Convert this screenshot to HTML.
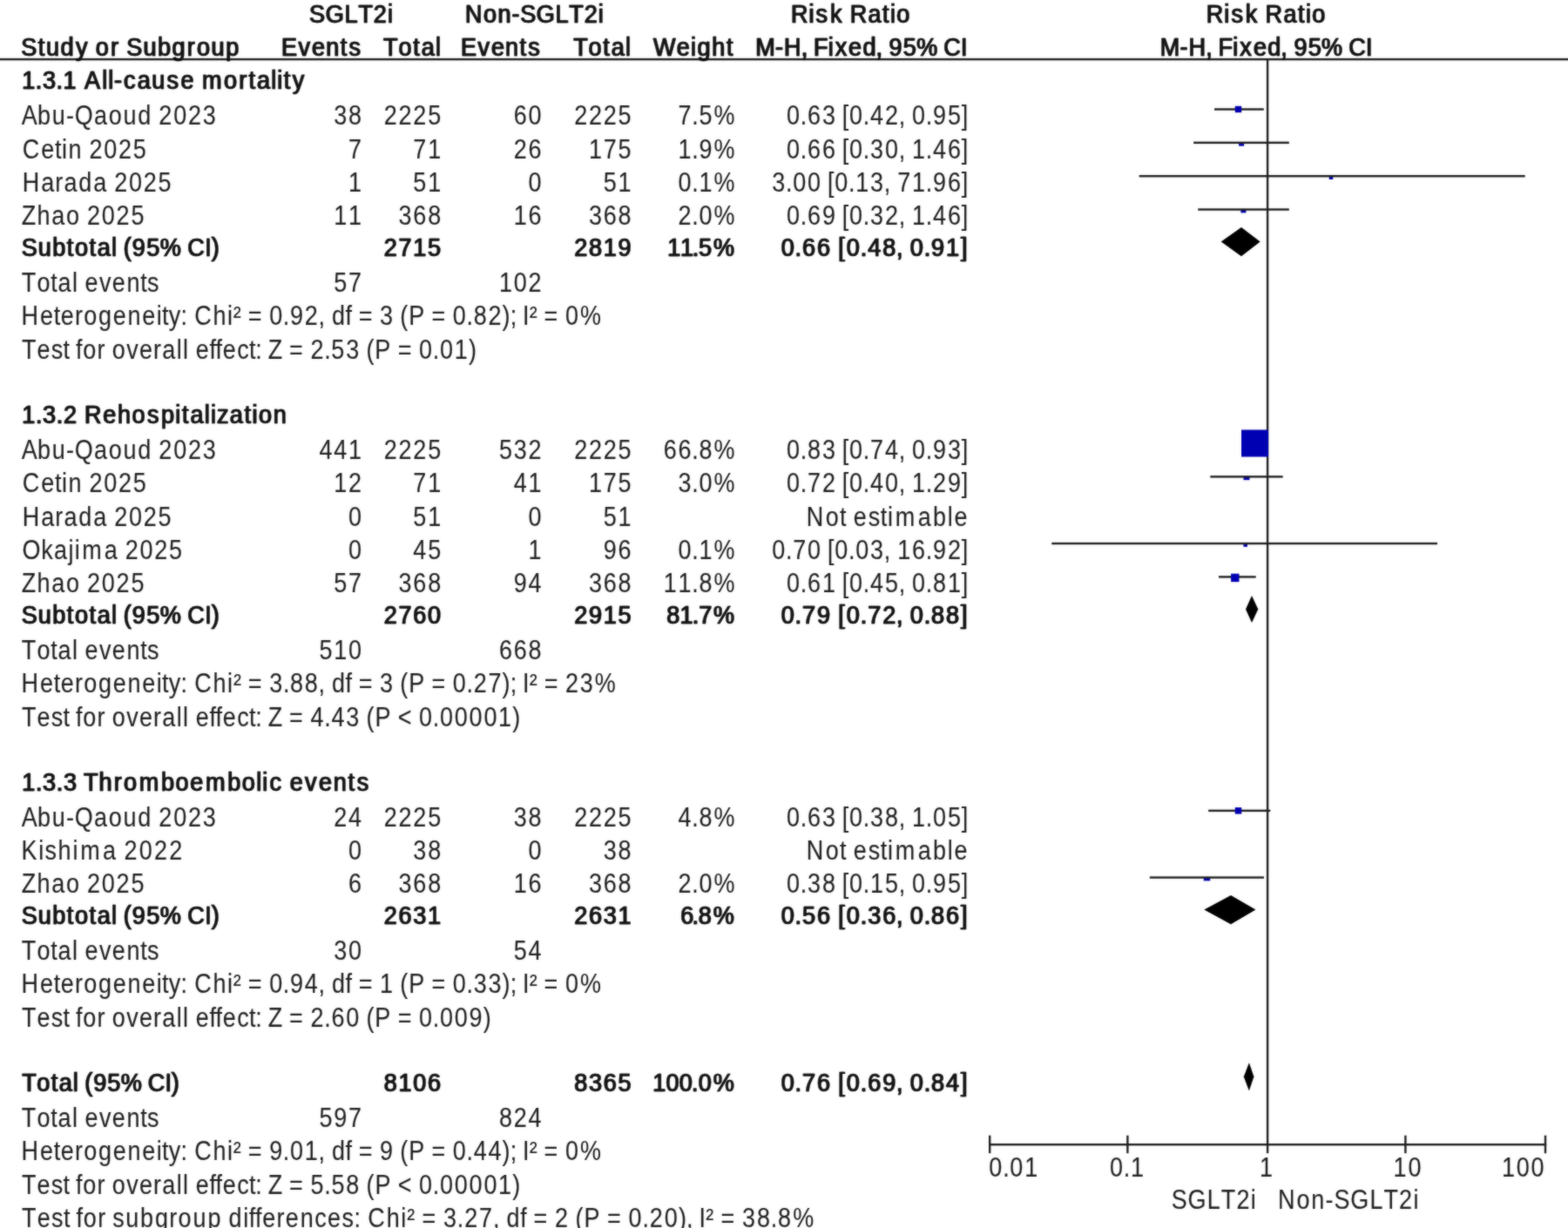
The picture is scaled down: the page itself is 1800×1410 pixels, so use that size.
<!DOCTYPE html>
<html lang="en">
<head>
<meta charset="utf-8">
<title>Forest plot: SGLT2i vs Non-SGLT2i</title>
<style>
html,body{margin:0;padding:0;background:#fff;}
body{width:1800px;height:1410px;overflow:hidden;}
svg{display:block;}
text{font-family:"Liberation Sans",sans-serif;font-size:30px;font-weight:400;white-space:pre;}
g.r text{fill:#1f1f1f;stroke:#1f1f1f;stroke-width:0.12px;}
g.b text{fill:#141414;stroke:#141414;stroke-width:0.45px;}
</style>
</head>
<body>
<svg width="1800" height="1410" viewBox="0 0 1800 1410">
<defs>
<filter id="soft" x="-5%" y="-30%" width="110%" height="160%" color-interpolation-filters="sRGB"><feGaussianBlur in="SourceGraphic" stdDeviation="1" result="b"/><feComposite in="SourceGraphic" in2="b" operator="arithmetic" k1="0" k2="0.5" k3="0.5" k4="0"/></filter>
<filter id="strong" x="-5%" y="-30%" width="110%" height="160%" color-interpolation-filters="sRGB"><feOffset in="SourceGraphic" dx="1" dy="0" result="o"/><feMerge result="m"><feMergeNode in="o"/><feMergeNode in="SourceGraphic"/></feMerge><feGaussianBlur in="m" stdDeviation="1" result="b"/><feComposite in="m" in2="b" operator="arithmetic" k1="0" k2="0.5" k3="0.5" k4="0"/></filter>
</defs>
<g id="plot" filter="url(#soft)">
<rect x="-20.00" y="66.90" width="1840.00" height="2.40" fill="#1f1f1f"/>
<rect x="1453.90" y="68.10" width="2.40" height="1256.10" fill="#1f1f1f"/>
<rect x="1135.00" y="1313.00" width="640.20" height="2.40" fill="#1f1f1f"/>
<rect x="1135.00" y="1303.70" width="2.40" height="20.50" fill="#1f1f1f"/>
<rect x="1293.20" y="1303.70" width="2.40" height="20.50" fill="#1f1f1f"/>
<rect x="1612.20" y="1303.70" width="2.40" height="20.50" fill="#1f1f1f"/>
<rect x="1772.80" y="1303.70" width="2.40" height="20.50" fill="#1f1f1f"/>
<rect x="1394.00" y="124.30" width="56.80" height="2.40" fill="#1f1f1f"/>
<rect x="1417.80" y="121.80" width="7.40" height="7.40" fill="#0000b2"/>
<rect x="1422.10" y="164.05" width="6.00" height="3.60" fill="#0000b2"/>
<rect x="1370.10" y="162.65" width="109.70" height="2.40" fill="#1f1f1f"/>
<rect x="1525.75" y="202.40" width="4.50" height="3.60" fill="#0000b2"/>
<rect x="1307.70" y="201.00" width="443.00" height="2.40" fill="#1f1f1f"/>
<rect x="1424.40" y="240.75" width="6.00" height="3.60" fill="#0000b2"/>
<rect x="1375.20" y="239.35" width="104.60" height="2.40" fill="#1f1f1f"/>
<polygon points="1401.70,277.60 1425.00,261.00 1446.70,277.60 1425.00,294.20" fill="#000"/>
<rect x="1425.00" y="493.50" width="31.00" height="31.00" fill="#0000b2"/>
<rect x="1427.50" y="547.55" width="7.00" height="3.60" fill="#0000b2"/>
<rect x="1389.30" y="546.15" width="83.40" height="2.40" fill="#1f1f1f"/>
<rect x="1427.45" y="624.25" width="4.50" height="3.60" fill="#0000b2"/>
<rect x="1207.30" y="622.85" width="442.70" height="2.40" fill="#1f1f1f"/>
<rect x="1399.00" y="661.20" width="42.70" height="2.40" fill="#1f1f1f"/>
<rect x="1413.10" y="658.70" width="9.40" height="9.40" fill="#0000b2"/>
<polygon points="1430.00,699.45 1437.00,683.95 1444.30,699.45 1437.00,714.95" fill="#000"/>
<rect x="1387.20" y="929.65" width="71.10" height="2.40" fill="#1f1f1f"/>
<rect x="1417.75" y="927.10" width="7.50" height="7.50" fill="#0000b2"/>
<rect x="1381.75" y="1007.75" width="7.50" height="3.60" fill="#0000b2"/>
<rect x="1319.80" y="1006.35" width="131.20" height="2.40" fill="#1f1f1f"/>
<polygon points="1382.30,1044.60 1413.00,1028.00 1441.50,1044.60 1413.00,1061.20" fill="#000"/>
<polygon points="1427.80,1236.35 1433.90,1220.15 1439.40,1236.35 1433.90,1252.55" fill="#000"/>
</g>
<g class="b" filter="url(#strong)">
<text transform="translate(0 26.00) scale(0.900 1.005)" x="393.9 414.6 439.0 456.6 475.9 494.0" y="0">SGLT2i</text>
<text transform="translate(0 26.00) scale(0.900 1.005)" x="592.8 616.2 634.5 652.2 663.0 683.6 707.9 725.4 744.6 762.6" y="0">Non-SGLT2i</text>
<text transform="translate(0 26.00) scale(0.900 1.005)" x="1008.3 1031.2 1040.1 1058.3 1074.4 1083.5 1106.7 1125.0 1134.9 1143.0" y="0">Risk Ratio</text>
<text transform="translate(0 26.00) scale(0.900 1.005)" x="1538.0 1560.9 1569.9 1588.1 1604.3 1613.4 1636.6 1655.0 1664.9 1673.0" y="0">Risk Ratio</text>
</g>
<g class="b" filter="url(#strong)">
<text transform="translate(0 63.80) scale(0.900 1.005)" x="26.4 48.0 58.3 76.8 96.0 112.5 121.5 140.6 151.9 160.7 182.1 200.5 218.9 238.0 250.5 268.9 287.4" y="0">Study or Subgroup</text>
<text transform="translate(0 63.80) scale(0.900 1.005)" x="358.3 380.1 397.3 415.3 433.5 444.4" y="0">Events</text>
<text transform="translate(0 63.80) scale(0.900 1.005)" x="488.4 507.8 526.5 536.9 555.1" y="0">Total</text>
<text transform="translate(0 63.80) scale(0.900 1.005)" x="587.2 608.9 626.0 644.0 662.1 673.1" y="0">Events</text>
<text transform="translate(0 63.80) scale(0.900 1.005)" x="730.7 750.0 768.7 779.1 797.3" y="0">Total</text>
<text transform="translate(0 63.80) scale(0.900 1.005)" x="832.9 862.4 880.6 888.9 907.4 926.1" y="0">Weight</text>
<text transform="translate(0 63.80) scale(0.900 1.005)" x="963.0 988.3 999.4 1021.3 1029.0 1037.1 1055.7 1064.6 1081.8 1099.9 1116.8 1124.5 1133.4 1151.4 1168.5 1194.1 1203.2 1225.1" y="0">M-H, Fixed, 95% CI</text>
<text transform="translate(0 63.80) scale(0.900 1.005)" x="1479.1 1504.4 1515.6 1537.5 1545.3 1553.4 1572.0 1580.9 1598.2 1616.3 1633.2 1640.9 1649.9 1668.0 1685.1 1710.7 1719.8 1741.8" y="0">M-H, Fixed, 95% CI</text>
</g>
<g class="b" filter="url(#strong)">
<text transform="translate(0 102.35) scale(0.900 1.005)" x="27.5 44.7 53.8 71.0 80.1 97.3 107.3 129.7 137.5 145.1 157.1 174.7 193.1 212.3 229.9 247.1 257.3 285.0 304.1 316.8 327.1 345.2 353.0 361.4 372.6" y="0">1.3.1 All-cause mortality</text>
</g>
<g class="r" filter="url(#soft)">
<text transform="translate(0 143.30) scale(0.900 1.022)" x="27.4 47.8 66.5 84.5 95.2 119.9 138.6 157.2 175.9 193.5 202.6 221.3 240.0 258.7" y="0">Abu-Qaoud 2023</text>
<text transform="translate(0 143.30) scale(0.900 1.022)" x="425.9 444.5" y="0">38</text>
<text transform="translate(0 143.30) scale(0.900 1.022)" x="489.7 508.3 527.0 545.7" y="0">2225</text>
<text transform="translate(0 143.30) scale(0.900 1.022)" x="655.3 674.0" y="0">60</text>
<text transform="translate(0 143.30) scale(0.900 1.022)" x="732.4 751.1 769.8 788.4" y="0">2225</text>
<text transform="translate(0 143.30) scale(0.900 1.022)" x="865.0 882.5 891.7 910.7" y="0">7.5%</text>
<text transform="translate(0 143.30) scale(0.900 1.022)" x="1003.4 1020.9 1030.1 1048.8 1066.3 1074.3 1083.4 1100.9 1110.1 1128.8 1146.3 1154.3 1163.4 1180.9 1190.1 1208.8 1226.3" y="0">0.63 [0.42, 0.95]</text>
</g>
<g class="r" filter="url(#soft)">
<text transform="translate(0 181.65) scale(0.900 1.022)" x="28.6 52.4 69.9 78.8 87.1 104.6 113.8 132.4 151.1 169.8" y="0">Cetin 2025</text>
<text transform="translate(0 181.65) scale(0.900 1.022)" x="444.5" y="0">7</text>
<text transform="translate(0 181.65) scale(0.900 1.022)" x="527.0 545.7" y="0">71</text>
<text transform="translate(0 181.65) scale(0.900 1.022)" x="655.3 674.0" y="0">26</text>
<text transform="translate(0 181.65) scale(0.900 1.022)" x="751.1 769.8 788.4" y="0">175</text>
<text transform="translate(0 181.65) scale(0.900 1.022)" x="865.0 882.5 891.7 910.7" y="0">1.9%</text>
<text transform="translate(0 181.65) scale(0.900 1.022)" x="1003.4 1020.9 1030.1 1048.8 1066.3 1074.3 1083.4 1100.9 1110.1 1128.8 1146.3 1154.3 1163.4 1180.9 1190.1 1208.8 1226.3" y="0">0.66 [0.30, 1.46]</text>
</g>
<g class="r" filter="url(#soft)">
<text transform="translate(0 220.00) scale(0.900 1.022)" x="28.6 52.4 70.4 81.8 100.4 119.1 136.6 145.8 164.4 183.1 201.8" y="0">Harada 2025</text>
<text transform="translate(0 220.00) scale(0.900 1.022)" x="444.5" y="0">1</text>
<text transform="translate(0 220.00) scale(0.900 1.022)" x="527.0 545.7" y="0">51</text>
<text transform="translate(0 220.00) scale(0.900 1.022)" x="674.0" y="0">0</text>
<text transform="translate(0 220.00) scale(0.900 1.022)" x="769.8 788.4" y="0">51</text>
<text transform="translate(0 220.00) scale(0.900 1.022)" x="865.0 882.5 891.7 910.7" y="0">0.1%</text>
<text transform="translate(0 220.00) scale(0.900 1.022)" x="984.8 1002.3 1011.4 1030.1 1047.6 1055.6 1064.8 1082.3 1091.4 1110.1 1127.6 1135.6 1144.8 1163.4 1180.9 1190.1 1208.8 1226.3" y="0">3.00 [0.13, 71.96]</text>
</g>
<g class="r" filter="url(#soft)">
<text transform="translate(0 258.35) scale(0.900 1.022)" x="27.6 47.1 65.8 84.4 101.9 111.1 129.8 148.4 167.1" y="0">Zhao 2025</text>
<text transform="translate(0 258.35) scale(0.900 1.022)" x="425.9 444.5" y="0">11</text>
<text transform="translate(0 258.35) scale(0.900 1.022)" x="508.3 527.0 545.7" y="0">368</text>
<text transform="translate(0 258.35) scale(0.900 1.022)" x="655.3 674.0" y="0">16</text>
<text transform="translate(0 258.35) scale(0.900 1.022)" x="751.1 769.8 788.4" y="0">368</text>
<text transform="translate(0 258.35) scale(0.900 1.022)" x="865.0 882.5 891.7 910.7" y="0">2.0%</text>
<text transform="translate(0 258.35) scale(0.900 1.022)" x="1003.4 1020.9 1030.1 1048.8 1066.3 1074.3 1083.4 1100.9 1110.1 1128.8 1146.3 1154.3 1163.4 1180.9 1190.1 1208.8 1226.3" y="0">0.69 [0.32, 1.46]</text>
</g>
<g class="b" filter="url(#strong)">
<text transform="translate(0 294.10) scale(0.900 1.005)" x="26.9 48.1 66.3 84.7 95.0 113.4 123.7 141.6 148.6 156.9 168.0 186.3 203.5 229.5 238.6 260.8 269.1" y="0">Subtotal (95% CI)</text>
<text transform="translate(0 294.10) scale(0.900 1.005)" x="489.1 507.8 526.4 545.1" y="0">2715</text>
<text transform="translate(0 294.10) scale(0.900 1.005)" x="731.9 750.5 769.2 787.9" y="0">2819</text>
<text transform="translate(0 294.10) scale(0.900 1.005)" x="850.9 867.3 882.4 890.6 909.4" y="0">11.5%</text>
<text transform="translate(0 294.10) scale(0.900 1.005)" x="995.7 1013.4 1022.7 1041.6 1059.3 1068.7 1079.3 1097.0 1106.3 1125.2 1142.9 1151.0 1160.2 1178.0 1187.2 1206.1 1225.1" y="0">0.66 [0.48, 0.91]</text>
</g>
<g class="r" filter="url(#soft)">
<text transform="translate(0 335.05) scale(0.900 1.022)" x="27.6 47.1 64.6 73.8 92.1 99.3 108.4 126.6 143.1 161.8 179.3 187.9" y="0">Total events</text>
<text transform="translate(0 335.05) scale(0.900 1.022)" x="425.9 444.5" y="0">57</text>
<text transform="translate(0 335.05) scale(0.900 1.022)" x="636.7 655.3 674.0" y="0">102</text>
</g>
<g class="r" filter="url(#soft)">
<text transform="translate(0 373.40) scale(0.900 1.022)" x="27.3 51.0 68.5 77.6 95.6 106.9 125.5 144.1 162.7 181.3 199.6 206.7 215.4 230.7 238.6 248.0 271.7 290.0 297.6 307.8 316.5 334.4 343.5 360.9 370.1 388.7 406.1 414.1 423.3 440.7 448.7 457.4 475.3 484.4 501.9 510.3 521.3 541.7 550.5 568.3 577.5 594.9 604.1 622.7 640.6 650.8 658.7 666.7 675.2 685.3 694.0 711.9 721.1 740.0" y="0">Heterogeneity: Chi² = 0.92, df = 3 (P = 0.82); I² = 0%</text>
</g>
<g class="r" filter="url(#soft)">
<text transform="translate(0 411.75) scale(0.900 1.022)" x="27.8 47.3 65.4 80.7 88.7 96.7 105.9 123.8 134.0 143.1 161.3 177.7 195.7 207.0 225.3 233.3 240.5 249.6 267.1 275.1 284.2 302.4 317.7 325.7 333.6 342.0 360.3 369.0 386.9 396.0 413.5 422.6 441.3 458.8 467.3 478.2 498.7 507.4 525.3 534.5 551.9 561.1 579.7 597.7" y="0">Test for overall effect: Z = 2.53 (P = 0.01)</text>
</g>
<g class="b" filter="url(#strong)">
<text transform="translate(0 485.85) scale(0.900 1.005)" x="27.5 44.9 54.0 71.4 80.5 97.9 107.1 130.8 149.4 167.9 187.3 205.0 223.2 231.7 242.1 260.3 268.2 276.0 292.4 311.1 321.2 329.5 348.0" y="0">1.3.2 Rehospitalization</text>
</g>
<g class="r" filter="url(#soft)">
<text transform="translate(0 526.80) scale(0.900 1.022)" x="27.4 47.8 66.5 84.5 95.2 119.9 138.6 157.2 175.9 193.5 202.6 221.3 240.0 258.7" y="0">Abu-Qaoud 2023</text>
<text transform="translate(0 526.80) scale(0.900 1.022)" x="407.2 425.9 444.5" y="0">441</text>
<text transform="translate(0 526.80) scale(0.900 1.022)" x="489.7 508.3 527.0 545.7" y="0">2225</text>
<text transform="translate(0 526.80) scale(0.900 1.022)" x="636.7 655.3 674.0" y="0">532</text>
<text transform="translate(0 526.80) scale(0.900 1.022)" x="732.4 751.1 769.8 788.4" y="0">2225</text>
<text transform="translate(0 526.80) scale(0.900 1.022)" x="846.3 865.0 882.5 891.7 910.7" y="0">66.8%</text>
<text transform="translate(0 526.80) scale(0.900 1.022)" x="1003.4 1020.9 1030.1 1048.8 1066.3 1074.3 1083.4 1100.9 1110.1 1128.8 1146.3 1154.3 1163.4 1180.9 1190.1 1208.8 1226.3" y="0">0.83 [0.74, 0.93]</text>
</g>
<g class="r" filter="url(#soft)">
<text transform="translate(0 565.15) scale(0.900 1.022)" x="28.6 52.4 69.9 78.8 87.1 104.6 113.8 132.4 151.1 169.8" y="0">Cetin 2025</text>
<text transform="translate(0 565.15) scale(0.900 1.022)" x="425.9 444.5" y="0">12</text>
<text transform="translate(0 565.15) scale(0.900 1.022)" x="527.0 545.7" y="0">71</text>
<text transform="translate(0 565.15) scale(0.900 1.022)" x="655.3 674.0" y="0">41</text>
<text transform="translate(0 565.15) scale(0.900 1.022)" x="751.1 769.8 788.4" y="0">175</text>
<text transform="translate(0 565.15) scale(0.900 1.022)" x="865.0 882.5 891.7 910.7" y="0">3.0%</text>
<text transform="translate(0 565.15) scale(0.900 1.022)" x="1003.4 1020.9 1030.1 1048.8 1066.3 1074.3 1083.4 1100.9 1110.1 1128.8 1146.3 1154.3 1163.4 1180.9 1190.1 1208.8 1226.3" y="0">0.72 [0.40, 1.29]</text>
</g>
<g class="r" filter="url(#soft)">
<text transform="translate(0 603.50) scale(0.900 1.022)" x="28.6 52.4 70.4 81.8 100.4 119.1 136.6 145.8 164.4 183.1 201.8" y="0">Harada 2025</text>
<text transform="translate(0 603.50) scale(0.900 1.022)" x="444.5" y="0">0</text>
<text transform="translate(0 603.50) scale(0.900 1.022)" x="527.0 545.7" y="0">51</text>
<text transform="translate(0 603.50) scale(0.900 1.022)" x="674.0" y="0">0</text>
<text transform="translate(0 603.50) scale(0.900 1.022)" x="769.8 788.4" y="0">51</text>
<text transform="translate(0 603.50) scale(0.900 1.022)" x="1028.7 1053.1 1071.1 1079.3 1088.7 1107.4 1123.1 1132.1 1141.9 1170.8 1189.9 1208.7 1217.3" y="0">Not estimable</text>
</g>
<g class="r" filter="url(#soft)">
<text transform="translate(0 641.85) scale(0.900 1.022)" x="28.3 52.5 69.0 87.3 95.3 104.8 133.0 150.5 159.6 178.3 197.0 215.6" y="0">Okajima 2025</text>
<text transform="translate(0 641.85) scale(0.900 1.022)" x="444.5" y="0">0</text>
<text transform="translate(0 641.85) scale(0.900 1.022)" x="527.0 545.7" y="0">45</text>
<text transform="translate(0 641.85) scale(0.900 1.022)" x="674.0" y="0">1</text>
<text transform="translate(0 641.85) scale(0.900 1.022)" x="769.8 788.4" y="0">96</text>
<text transform="translate(0 641.85) scale(0.900 1.022)" x="865.0 882.5 891.7 910.7" y="0">0.1%</text>
<text transform="translate(0 641.85) scale(0.900 1.022)" x="984.8 1002.3 1011.4 1030.1 1047.6 1055.6 1064.8 1082.3 1091.4 1110.1 1127.6 1135.6 1144.8 1163.4 1180.9 1190.1 1208.8 1226.3" y="0">0.70 [0.03, 16.92]</text>
</g>
<g class="r" filter="url(#soft)">
<text transform="translate(0 680.20) scale(0.900 1.022)" x="27.6 47.1 65.8 84.4 101.9 111.1 129.8 148.4 167.1" y="0">Zhao 2025</text>
<text transform="translate(0 680.20) scale(0.900 1.022)" x="425.9 444.5" y="0">57</text>
<text transform="translate(0 680.20) scale(0.900 1.022)" x="508.3 527.0 545.7" y="0">368</text>
<text transform="translate(0 680.20) scale(0.900 1.022)" x="655.3 674.0" y="0">94</text>
<text transform="translate(0 680.20) scale(0.900 1.022)" x="751.1 769.8 788.4" y="0">368</text>
<text transform="translate(0 680.20) scale(0.900 1.022)" x="846.3 865.0 882.5 891.7 910.7" y="0">11.8%</text>
<text transform="translate(0 680.20) scale(0.900 1.022)" x="1003.4 1020.9 1030.1 1048.8 1066.3 1074.3 1083.4 1100.9 1110.1 1128.8 1146.3 1154.3 1163.4 1180.9 1190.1 1208.8 1226.3" y="0">0.61 [0.45, 0.81]</text>
</g>
<g class="b" filter="url(#strong)">
<text transform="translate(0 715.95) scale(0.900 1.005)" x="26.9 48.1 66.3 84.7 95.0 113.4 123.7 141.6 148.6 156.9 168.0 186.3 203.5 229.5 238.6 260.8 269.1" y="0">Subtotal (95% CI)</text>
<text transform="translate(0 715.95) scale(0.900 1.005)" x="489.1 507.8 526.4 545.1" y="0">2760</text>
<text transform="translate(0 715.95) scale(0.900 1.005)" x="731.9 750.5 769.2 787.9" y="0">2915</text>
<text transform="translate(0 715.95) scale(0.900 1.005)" x="849.7 866.6 882.4 890.8 909.4" y="0">81.7%</text>
<text transform="translate(0 715.95) scale(0.900 1.005)" x="995.7 1013.4 1022.7 1041.6 1059.3 1068.7 1079.3 1097.0 1106.3 1125.2 1142.9 1151.0 1160.2 1178.0 1187.2 1206.1 1225.1" y="0">0.79 [0.72, 0.88]</text>
</g>
<g class="r" filter="url(#soft)">
<text transform="translate(0 756.90) scale(0.900 1.022)" x="27.6 47.1 64.6 73.8 92.1 99.3 108.4 126.6 143.1 161.8 179.3 187.9" y="0">Total events</text>
<text transform="translate(0 756.90) scale(0.900 1.022)" x="407.2 425.9 444.5" y="0">510</text>
<text transform="translate(0 756.90) scale(0.900 1.022)" x="636.7 655.3 674.0" y="0">668</text>
</g>
<g class="r" filter="url(#soft)">
<text transform="translate(0 795.25) scale(0.900 1.022)" x="27.3 51.0 68.5 77.6 95.6 106.9 125.5 144.1 162.7 181.3 199.6 206.7 215.4 230.7 238.7 248.0 271.7 290.0 297.7 307.8 316.5 334.4 343.5 361.0 370.1 388.7 406.2 414.2 423.3 440.7 448.7 457.4 475.3 484.4 501.9 510.4 521.3 541.8 550.5 568.4 577.5 595.0 604.1 622.7 640.7 650.8 658.8 666.8 675.2 685.4 694.1 712.0 721.1 739.7 758.7" y="0">Heterogeneity: Chi² = 3.88, df = 3 (P = 0.27); I² = 23%</text>
</g>
<g class="r" filter="url(#soft)">
<text transform="translate(0 833.60) scale(0.900 1.022)" x="27.8 47.3 65.4 80.7 88.7 96.7 105.9 123.9 134.0 143.1 161.3 177.8 195.7 207.0 225.4 233.3 240.5 249.6 267.1 275.1 284.3 302.4 317.7 325.7 333.7 342.0 360.3 369.0 386.9 396.1 413.6 422.7 441.3 458.8 467.3 478.3 498.8 507.5 525.4 534.5 552.0 561.2 579.8 598.4 617.1 635.7 653.7" y="0">Test for overall effect: Z = 4.43 (P &lt; 0.00001)</text>
</g>
<g class="b" filter="url(#strong)">
<text transform="translate(0 907.70) scale(0.900 1.005)" x="27.5 44.9 54.0 71.3 80.5 97.8 106.1 125.5 144.7 157.2 177.0 204.9 223.4 242.0 261.7 289.6 308.2 326.4 334.3 343.4 360.0 369.1 388.4 406.1 424.7 443.4 454.6" y="0">1.3.3 Thromboembolic events</text>
</g>
<g class="r" filter="url(#soft)">
<text transform="translate(0 948.65) scale(0.900 1.022)" x="27.4 47.8 66.5 84.5 95.2 119.9 138.6 157.2 175.9 193.5 202.6 221.3 240.0 258.7" y="0">Abu-Qaoud 2023</text>
<text transform="translate(0 948.65) scale(0.900 1.022)" x="425.9 444.5" y="0">24</text>
<text transform="translate(0 948.65) scale(0.900 1.022)" x="489.7 508.3 527.0 545.7" y="0">2225</text>
<text transform="translate(0 948.65) scale(0.900 1.022)" x="655.3 674.0" y="0">38</text>
<text transform="translate(0 948.65) scale(0.900 1.022)" x="732.4 751.1 769.8 788.4" y="0">2225</text>
<text transform="translate(0 948.65) scale(0.900 1.022)" x="865.0 882.5 891.7 910.7" y="0">4.8%</text>
<text transform="translate(0 948.65) scale(0.900 1.022)" x="1003.4 1020.9 1030.1 1048.8 1066.3 1074.3 1083.4 1100.9 1110.1 1128.8 1146.3 1154.3 1163.4 1180.9 1190.1 1208.8 1226.3" y="0">0.63 [0.38, 1.05]</text>
</g>
<g class="r" filter="url(#soft)">
<text transform="translate(0 987.00) scale(0.900 1.022)" x="27.3 49.1 57.1 73.9 92.7 102.4 131.2 149.1 158.4 177.5 196.6 215.7" y="0">Kishima 2022</text>
<text transform="translate(0 987.00) scale(0.900 1.022)" x="444.5" y="0">0</text>
<text transform="translate(0 987.00) scale(0.900 1.022)" x="527.0 545.7" y="0">38</text>
<text transform="translate(0 987.00) scale(0.900 1.022)" x="674.0" y="0">0</text>
<text transform="translate(0 987.00) scale(0.900 1.022)" x="769.8 788.4" y="0">38</text>
<text transform="translate(0 987.00) scale(0.900 1.022)" x="1028.7 1053.1 1071.1 1079.3 1088.7 1107.4 1123.1 1132.1 1141.9 1170.8 1189.9 1208.7 1217.3" y="0">Not estimable</text>
</g>
<g class="r" filter="url(#soft)">
<text transform="translate(0 1025.35) scale(0.900 1.022)" x="27.6 47.1 65.8 84.4 101.9 111.1 129.8 148.4 167.1" y="0">Zhao 2025</text>
<text transform="translate(0 1025.35) scale(0.900 1.022)" x="444.5" y="0">6</text>
<text transform="translate(0 1025.35) scale(0.900 1.022)" x="508.3 527.0 545.7" y="0">368</text>
<text transform="translate(0 1025.35) scale(0.900 1.022)" x="655.3 674.0" y="0">16</text>
<text transform="translate(0 1025.35) scale(0.900 1.022)" x="751.1 769.8 788.4" y="0">368</text>
<text transform="translate(0 1025.35) scale(0.900 1.022)" x="865.0 882.5 891.7 910.7" y="0">2.0%</text>
<text transform="translate(0 1025.35) scale(0.900 1.022)" x="1003.4 1020.9 1030.1 1048.8 1066.3 1074.3 1083.4 1100.9 1110.1 1128.8 1146.3 1154.3 1163.4 1180.9 1190.1 1208.8 1226.3" y="0">0.38 [0.15, 0.95]</text>
</g>
<g class="b" filter="url(#strong)">
<text transform="translate(0 1061.10) scale(0.900 1.005)" x="26.9 48.1 66.3 84.7 95.0 113.4 123.7 141.6 148.6 156.9 168.0 186.3 203.5 229.5 238.6 260.8 269.1" y="0">Subtotal (95% CI)</text>
<text transform="translate(0 1061.10) scale(0.900 1.005)" x="489.1 507.8 526.4 545.1" y="0">2631</text>
<text transform="translate(0 1061.10) scale(0.900 1.005)" x="731.9 750.5 769.2 787.9" y="0">2631</text>
<text transform="translate(0 1061.10) scale(0.900 1.005)" x="867.4 882.3 890.3 909.1" y="0">6.8%</text>
<text transform="translate(0 1061.10) scale(0.900 1.005)" x="995.7 1013.4 1022.7 1041.6 1059.3 1068.7 1079.3 1097.0 1106.3 1125.2 1142.9 1151.0 1160.2 1178.0 1187.2 1206.1 1225.1" y="0">0.56 [0.36, 0.86]</text>
</g>
<g class="r" filter="url(#soft)">
<text transform="translate(0 1102.05) scale(0.900 1.022)" x="27.6 47.1 64.6 73.8 92.1 99.3 108.4 126.6 143.1 161.8 179.3 187.9" y="0">Total events</text>
<text transform="translate(0 1102.05) scale(0.900 1.022)" x="425.9 444.5" y="0">30</text>
<text transform="translate(0 1102.05) scale(0.900 1.022)" x="655.3 674.0" y="0">54</text>
</g>
<g class="r" filter="url(#soft)">
<text transform="translate(0 1140.40) scale(0.900 1.022)" x="27.3 51.0 68.5 77.6 95.6 106.9 125.5 144.1 162.7 181.3 199.6 206.7 215.4 230.7 238.6 248.0 271.7 290.0 297.6 307.8 316.5 334.4 343.5 360.9 370.1 388.7 406.1 414.1 423.3 440.7 448.7 457.4 475.3 484.4 501.9 510.3 521.3 541.7 550.5 568.3 577.5 594.9 604.1 622.7 640.6 650.8 658.7 666.7 675.2 685.3 694.0 711.9 721.1 740.0" y="0">Heterogeneity: Chi² = 0.94, df = 1 (P = 0.33); I² = 0%</text>
</g>
<g class="r" filter="url(#soft)">
<text transform="translate(0 1178.75) scale(0.900 1.022)" x="27.8 47.3 65.4 80.7 88.7 96.7 105.9 123.8 134.0 143.1 161.3 177.7 195.7 207.0 225.3 233.3 240.5 249.6 267.1 275.1 284.2 302.4 317.7 325.7 333.7 342.0 360.3 369.0 386.9 396.0 413.5 422.7 441.3 458.8 467.3 478.2 498.7 507.4 525.3 534.5 552.0 561.1 579.7 598.4 616.4" y="0">Test for overall effect: Z = 2.60 (P = 0.009)</text>
</g>
<g class="b" filter="url(#strong)">
<text transform="translate(0 1252.85) scale(0.900 1.005)" x="27.6 46.4 64.6 74.7 92.4 99.3 107.5 118.5 136.5 153.5 179.1 188.1 210.0 218.2" y="0">Total (95% CI)</text>
<text transform="translate(0 1252.85) scale(0.900 1.005)" x="489.1 507.8 526.4 545.1" y="0">8106</text>
<text transform="translate(0 1252.85) scale(0.900 1.005)" x="731.9 750.5 769.2 787.9" y="0">8365</text>
<text transform="translate(0 1252.85) scale(0.900 1.005)" x="831.9 848.9 865.9 881.7 890.2 909.1" y="0">100.0%</text>
<text transform="translate(0 1252.85) scale(0.900 1.005)" x="995.7 1013.4 1022.7 1041.6 1059.3 1068.7 1079.3 1097.0 1106.3 1125.2 1142.9 1151.0 1160.2 1178.0 1187.2 1206.1 1225.1" y="0">0.76 [0.69, 0.84]</text>
</g>
<g class="r" filter="url(#soft)">
<text transform="translate(0 1293.80) scale(0.900 1.022)" x="27.6 47.1 64.6 73.8 92.1 99.3 108.4 126.6 143.1 161.8 179.3 187.9" y="0">Total events</text>
<text transform="translate(0 1293.80) scale(0.900 1.022)" x="407.2 425.9 444.5" y="0">597</text>
<text transform="translate(0 1293.80) scale(0.900 1.022)" x="636.7 655.3 674.0" y="0">824</text>
</g>
<g class="r" filter="url(#soft)">
<text transform="translate(0 1332.15) scale(0.900 1.022)" x="27.3 51.0 68.5 77.6 95.6 106.9 125.5 144.1 162.7 181.3 199.6 206.7 215.4 230.7 238.6 248.0 271.7 290.0 297.6 307.8 316.5 334.4 343.5 360.9 370.1 388.7 406.1 414.1 423.3 440.7 448.7 457.4 475.3 484.4 501.9 510.3 521.3 541.7 550.5 568.3 577.5 594.9 604.1 622.7 640.6 650.8 658.7 666.7 675.2 685.3 694.0 711.9 721.1 740.0" y="0">Heterogeneity: Chi² = 9.01, df = 9 (P = 0.44); I² = 0%</text>
</g>
<g class="r" filter="url(#soft)">
<text transform="translate(0 1370.50) scale(0.900 1.022)" x="27.8 47.3 65.4 80.7 88.7 96.7 105.9 123.9 134.0 143.1 161.3 177.8 195.7 207.0 225.4 233.3 240.5 249.6 267.1 275.1 284.3 302.4 317.7 325.7 333.7 342.0 360.3 369.0 386.9 396.1 413.6 422.7 441.3 458.8 467.3 478.3 498.8 507.5 525.4 534.5 552.0 561.2 579.8 598.4 617.1 635.7 653.7" y="0">Test for overall effect: Z = 5.58 (P &lt; 0.00001)</text>
</g>
<g class="r" filter="url(#soft)">
<text transform="translate(0 1408.85) scale(0.900 1.022)" x="27.8 47.4 65.7 81.2 89.2 97.3 106.5 124.6 134.9 143.6 160.2 179.0 197.8 215.9 227.3 246.1 264.9 282.5 291.7 310.2 317.4 325.5 334.7 352.8 364.2 383.0 401.3 417.9 436.2 451.6 459.7 469.1 493.0 511.5 519.2 529.5 538.3 556.3 565.5 583.1 592.4 611.1 628.8 636.8 646.0 663.7 671.7 680.5 698.6 707.8 725.4 734.0 745.0 765.7 774.5 792.5 801.7 819.4 828.6 847.4 865.5 875.7 883.8 891.8 900.4 910.6 919.4 937.5 946.7 965.5 983.1 992.3 1011.4" y="0">Test for subgroup differences: Chi² = 3.27, df = 2 (P = 0.20), I² = 38.8%</text>
</g>
<g class="r" filter="url(#soft)">
<text transform="translate(0 1351.20) scale(0.900 1.022)" x="1261.5 1279.1 1288.2 1306.9" y="0">0.01</text>
<text transform="translate(0 1351.20) scale(0.900 1.022)" x="1415.5 1433.1 1442.2" y="0">0.1</text>
<text transform="translate(0 1351.20) scale(0.900 1.022)" x="1606.7" y="0">1</text>
<text transform="translate(0 1351.20) scale(0.900 1.022)" x="1777.3 1796.0" y="0">10</text>
<text transform="translate(0 1351.20) scale(0.900 1.022)" x="1915.5 1934.2 1952.9" y="0">100</text>
</g>
<g class="r" filter="url(#soft)">
<text transform="translate(0 1387.50) scale(0.900 1.022)" x="1494.1 1515.1 1539.8 1557.6 1577.1 1595.4" y="0">SGLT2i</text>
<text transform="translate(0 1387.50) scale(0.900 1.022)" x="1630.1 1653.9 1672.5 1690.6 1701.6 1722.6 1747.2 1765.1 1784.5 1802.9" y="0">Non-SGLT2i</text>
</g>
</svg>
</body>
</html>
